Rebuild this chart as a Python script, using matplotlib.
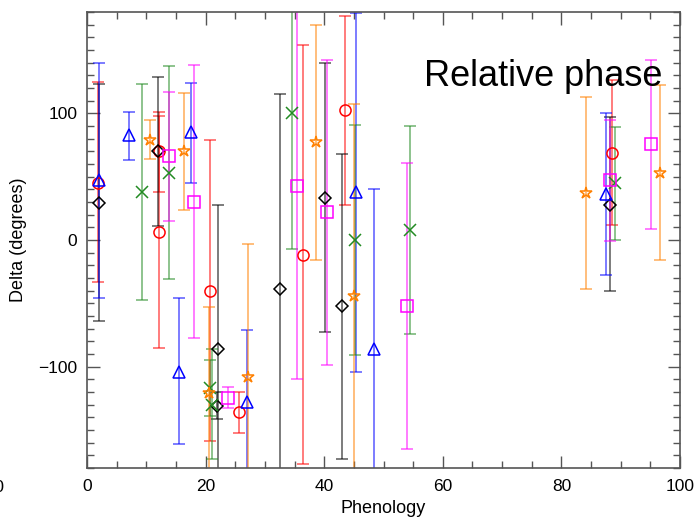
import numpy as np
import matplotlib.pyplot as plt
from matplotlib.colors import to_rgba
from matplotlib.ticker import MultipleLocator

plt.rcParams["font.family"] = ["Liberation Sans", "DejaVu Sans"]

# values: position, value, lower and upper end of the error bar
red_x = [1.8, 12.1, 12.2, 20.7, 25.6, 36.5, 43.5, 88.5]
red_y = [45, 70, 6, -40, -136, -12, 103, 69]
red_lo = [-33, 38, -85, -159, -152, -177, 28, 12]
red_hi = [125, 98, 101, 79, -120, 154, 177, 126]

black_x = [2.1, 11.9, 22.1, 21.9, 32.5, 40.1, 43.0, 88.2]
black_y = [29, 70, -86, -131, -39, 33, -52, 28]
black_lo = [-64, 11, -200, -141, -193, -73, -173, -40]
black_hi = [123, 129, 28, -120, 115, 140, 68, 97]

blue_x = [2.1, 7.1, 17.6, 15.5, 26.9, 45.3, 48.4, 87.6]
blue_y = [47, 83, 85, -104, -128, 38, -86, 36]
blue_lo = [-46, 63, 45, -161, -185, -104, -212, -28]
blue_hi = [140, 101, 124, -46, -71, 179, 40, 100]

green_x = [9.3, 13.9, 20.8, 21.0, 34.5, 45.2, 54.5, 89.0]
green_y = [38, 53, -117, -130, 100, 0, 8, 45]
green_lo = [-47, -31, -139, -173, -7, -91, -74, 0]
green_hi = [123, 137, -95, -86, 207, 91, 90, 89]

orange_x = [10.7, 16.4, 20.6, 27.2, 38.7, 45.0, 84.1, 96.6]
orange_y = [79, 70, -121, -108, 77, -44, 37, 53]
orange_lo = [64, 24, -189, -213, -16, -194, -39, -16]
orange_hi = [95, 116, -53, -3, 170, 107, 113, 122]

magenta_x = [13.8, 18.0, 23.8, 35.4, 40.4, 53.9, 88.2, 95.1]
magenta_y = [66, 30, -125, 43, 22, -52, 47, 76]
magenta_lo = [15, -77, -133, -110, -99, -165, -1, 9]
magenta_hi = [117, 138, -116, 196, 142, 61, 95, 142]

series = [
    (red_x, red_y, red_lo, red_hi, "#ff0000", "o", 8),
    (black_x, black_y, black_lo, black_hi, "#000000", "D", 6),
    (blue_x, blue_y, blue_lo, blue_hi, "#0000ff", "^", 8),
    (green_x, green_y, green_lo, green_hi, "#228b22", "x", 8),
    (orange_x, orange_y, orange_lo, orange_hi, "#ff8000", "*", 9),
    (magenta_x, magenta_y, magenta_lo, magenta_hi, "#ff00ff", "s", 8),
]

fig = plt.figure(figsize=(6.95, 5.19), dpi=100)
ax = fig.add_axes([0.1252, 0.0983, 0.8532, 0.8786])

for x, y, lo, hi, col, mk, ms in series:
    y = np.array(y)
    err = [y - np.array(lo), np.array(hi) - y]
    ax.errorbar(x, y, yerr=err, fmt="none", ecolor=to_rgba(col, 0.6),
                elinewidth=1.2, capsize=4, capthick=1.2, zorder=2)
for x, y, lo, hi, col, mk, ms in series:
    ax.plot(x, y, linestyle="none", marker=mk, markersize=ms,
            markerfacecolor="none", markeredgecolor=col, markeredgewidth=1.1,
            zorder=3)

ax.set_xlim(0, 100)
ax.set_ylim(-180, 180)
ax.set_xticks([0, 20, 40, 60, 80, 100])
ax.set_yticks([-100, 0, 100])
ax.set_yticklabels(["\u2212100", "0", "100"])
ax.xaxis.set_minor_locator(MultipleLocator(5))
ax.yaxis.set_minor_locator(MultipleLocator(10))
ax.tick_params(which="both", direction="in", top=True, right=True,
               color="#555555", width=1, labelsize=12.5)
ax.tick_params(which="major", length=9)
ax.tick_params(which="minor", length=5)
ax.tick_params(axis="x", pad=8)
ax.tick_params(axis="y", pad=7)
for s in ax.spines.values():
    s.set_color("#555555")
    s.set_linewidth(1.2)

ax.set_xlabel("Phenology", fontsize=13, labelpad=4)
ax.set_ylabel("Delta (degrees)", fontsize=13, labelpad=8)

ax.text(0.568, 0.838, "Relative phase", transform=ax.transAxes,
        fontsize=26, ha="left", va="baseline")

# edge of the neighbouring panel's last tick label
fig.text(5 / 695, 1 - 487 / 519, "100", fontsize=12.5, ha="right", va="center")

fig.savefig("out.png", dpi=100)
